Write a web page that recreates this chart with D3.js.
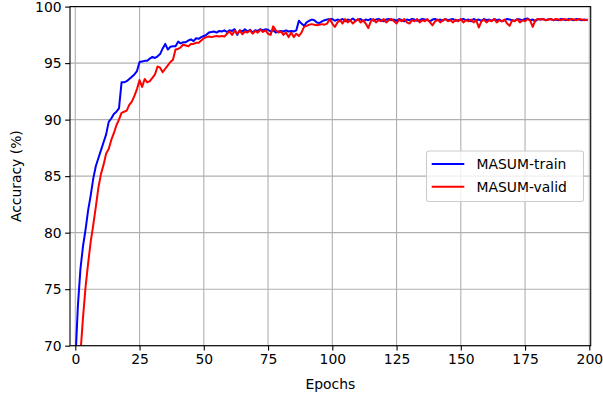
<!DOCTYPE html>
<html><head><meta charset="utf-8">
<script src="https://cdn.jsdelivr.net/npm/d3@7"></script>
<style>body{margin:0;background:#fff}svg{display:block}text{font-family:"DejaVu Sans",sans-serif;fill:#000}</style>
</head><body>
<svg id="c" width="603" height="398"></svg>
<script>
const xTicks = [0,25,50,75,100,125,150,175,200];
const yTicks = [70,75,80,85,90,95,100];
const seriesNames = ["MASUM-train","MASUM-valid"];
const trainAcc = [
68.5,73.5,76.8,78.8,80.3,82.0,83.3,84.8,85.9,86.6,
87.3,88.0,88.7,89.8,90.1,90.5,90.7,91.0,93.3,93.3,
93.4,93.6,93.8,94.0,94.3,95.1,95.15,95.2,95.2,95.4,
95.55,95.45,95.6,95.8,96.3,96.7,96.2,96.45,96.5,96.5,
96.9,96.75,96.85,96.85,97.0,97.1,96.95,97.2,97.15,97.3,
97.4,97.5,97.7,97.75,97.8,97.7,97.85,97.8,97.9,97.75,
97.9,97.85,98.0,97.5,97.9,97.8,98.0,97.8,97.95,97.7,
97.9,97.85,98.0,97.9,98.0,97.95,97.8,97.9,97.7,97.8,
97.85,97.8,97.9,97.8,97.85,97.8,97.9,98.75,98.5,98.3,
98.6,98.75,98.85,98.8,98.6,98.55,98.7,98.8,98.85,98.9,
98.9,98.75,98.85,98.8,98.9,98.7,98.85,98.8,98.95,98.75,
98.85,98.9,98.7,98.85,98.8,98.9,98.75,98.85,98.9,98.8,
98.7,98.85,98.9,98.8,98.85,98.75,98.9,98.8,98.7,98.85,
98.8,98.9,98.85,98.75,98.8,98.9,98.85,98.8,98.7,98.85,
98.9,98.8,98.85,98.75,98.9,98.8,98.85,98.9,98.75,98.8,
98.85,98.9,98.8,98.85,98.7,98.9,98.8,98.85,98.75,98.9,
98.8,98.85,98.75,98.9,98.8,98.85,98.7,98.8,98.9,98.85,
98.8,98.75,98.9,98.85,98.8,98.9,98.95,98.8,98.85,98.7,
98.9,98.85,98.9,98.8,98.85,98.9,98.8,98.85,98.8,98.9,
98.85,98.8,98.9,98.85,98.8,98.9,98.85,98.8,98.85,98.8];
const validAcc = [
63.0,66.5,69.3,72.5,75.2,77.3,79.2,80.7,82.3,84.0,
85.2,86.0,87.0,87.4,88.2,88.8,89.5,90.0,90.6,90.7,
90.8,91.3,91.6,92.1,92.7,93.5,92.9,93.6,93.3,93.4,
93.7,94.0,94.7,94.6,94.2,94.5,94.8,95.1,95.3,96.2,
96.25,96.4,96.65,96.55,96.5,96.7,96.7,96.8,96.8,97.0,
97.2,97.3,97.35,97.3,97.35,97.4,97.35,97.4,97.35,97.6,
97.8,97.5,97.85,97.6,97.9,97.55,97.8,97.7,97.9,97.6,
97.85,97.7,97.95,97.75,97.9,97.6,97.5,98.25,97.9,97.7,
97.8,97.5,97.7,97.3,97.7,97.3,97.6,97.4,97.7,98.2,
98.3,98.4,98.45,98.4,98.35,98.4,98.45,98.4,98.5,98.9,
98.5,98.2,98.6,98.8,98.5,98.9,98.6,98.8,98.5,98.7,
98.9,98.6,98.8,98.5,98.1,98.7,98.9,98.6,98.8,98.7,
98.9,98.6,98.8,98.9,98.7,98.5,98.85,98.7,98.9,98.6,
98.5,98.8,98.7,98.9,98.6,98.8,98.7,98.9,98.6,98.35,
98.7,98.85,98.6,98.8,98.9,98.7,98.8,98.6,98.85,98.7,
98.9,98.6,98.8,98.7,98.85,98.6,98.8,98.15,98.7,98.85,
98.6,98.8,98.7,98.9,98.6,98.8,98.7,98.85,98.5,98.3,
98.8,98.7,98.9,98.6,98.8,98.7,98.9,98.75,98.2,98.8,
98.9,98.85,98.9,98.8,98.85,98.9,98.8,98.9,98.85,98.8,
98.9,98.85,98.8,98.9,98.85,98.8,98.9,98.85,98.8,98.85];
const colors = ["#0000ff","#ff0000"];

const svg = d3.select("#c");
const L=70, R=590.7, T=6.6, B=345.7;
const x = d3.scaleLinear().domain([0,200]).range([75.3,589.3]);
const y = d3.scaleLinear().domain([70,100]).range([B,T]);

svg.append("defs").append("clipPath").attr("id","clip")
  .append("rect").attr("x",L).attr("y",T).attr("width",R-L).attr("height",B-T);

// grid
const grid = svg.append("g");
grid.selectAll(".gx").data(xTicks).join("line")
  .attr("x1",d=>x(d)).attr("x2",d=>x(d)).attr("y1",T).attr("y2",B)
  .attr("stroke","#b0b0b0").attr("stroke-width",1.1);
grid.selectAll(".gy").data(yTicks).join("line")
  .attr("y1",d=>y(d)).attr("y2",d=>y(d)).attr("x1",L).attr("x2",R)
  .attr("stroke","#b0b0b0").attr("stroke-width",1.1);

// lines
const line = d3.line().x((d,i)=>x(i)).y(d=>y(d));
const lg = svg.append("g").attr("clip-path","url(#clip)");
[trainAcc, validAcc].forEach((s,k)=>{
  lg.append("path").datum(s).attr("d",line).attr("fill","none")
    .attr("stroke",colors[k]).attr("stroke-width",2.0).attr("stroke-linejoin","round").attr("stroke-linecap","square");
});

// spines
svg.append("rect").attr("x",L).attr("y",T).attr("width",R-L).attr("height",B-T)
  .attr("fill","none").attr("stroke","#000").attr("stroke-width",1.1);

// axes
const xa = d3.axisBottom(x).tickValues(xTicks).tickSize(4.9).tickPadding(3.5).tickFormat(d3.format("d"));
const gx = svg.append("g").attr("transform",`translate(0,${B})`).call(xa);
const ya = d3.axisLeft(y).tickValues(yTicks).tickSize(4.9).tickPadding(3.5).tickFormat(d3.format("d"));
const gy = svg.append("g").attr("transform",`translate(${L},0)`).call(ya);
[gx,gy].forEach(g=>{
  g.select(".domain").remove();
  g.selectAll(".tick line").attr("stroke","#000").attr("stroke-width",1.1);
  g.selectAll(".tick text").attr("font-family","DejaVu Sans").attr("font-size","13.9px").attr("fill","#000");
});

// labels
svg.append("text").attr("x",(L+R)/2).attr("y",389).attr("text-anchor","middle")
  .attr("font-size","13.9px").text("Epochs");
svg.append("text").attr("transform",`translate(21,${(T+B)/2}) rotate(-90)`).attr("text-anchor","middle")
  .attr("font-size","13.9px").text("Accuracy (%)");

// legend
const leg = svg.append("g");
leg.append("rect").attr("x",426.5).attr("y",151).attr("width",157).attr("height",50.5).attr("rx",2.5)
  .attr("fill","#fff").attr("fill-opacity",0.8).attr("stroke","#cccccc").attr("stroke-width",1.1);
seriesNames.forEach((n,k)=>{
  const yy = 164 + k*22.7;
  leg.append("line").attr("x1",431.7).attr("x2",464.3).attr("y1",yy).attr("y2",yy)
    .attr("stroke",colors[k]).attr("stroke-width",2.0);
  leg.append("text").attr("x",476.5).attr("y",yy+5).attr("font-size","13.9px").text(n);
});
</script>
</body></html>
